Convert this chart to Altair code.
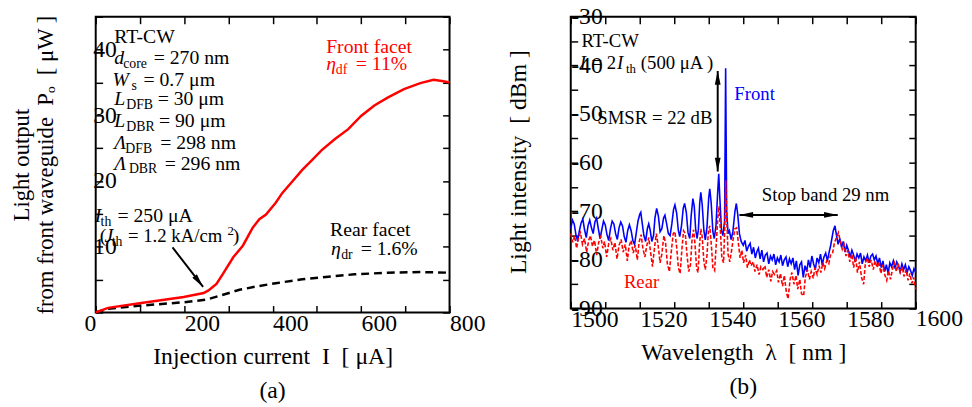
import altair as alt
import pandas as pd

FONT = "Liberation Serif"

# ---------------- (a) light output vs injection current ----------------
cur_front = [0, 28, 103, 199, 244, 255, 273, 288, 311, 333, 355, 370, 385, 407, 422, 444, 467,
             489, 511, 541, 571, 600, 630, 660, 697, 734, 764, 786, 800]
pow_front = [0, 0.7, 1.45, 2.35, 2.95, 3.35, 4.35, 5.9, 8.4, 10.2, 12.9, 14.2, 14.9, 16.7, 18.2,
             19.9, 21.7, 23.2, 24.7, 26.4, 27.9, 29.9, 31.5, 32.7, 34.0, 34.9, 35.4, 35.2, 35.0]
cur_rear = [0, 28, 103, 199, 251, 288, 325, 363, 407, 467, 526, 585, 660, 734, 800]
pow_rear = [0, 0.55, 1.05, 1.55, 1.95, 2.7, 3.45, 3.95, 4.45, 5.05, 5.45, 5.8, 6.05, 6.15, 6.05]

a_x_labels = [0, 200, 400, 600, 800]
a_x_ticks = [0, 100, 200, 300, 400, 500, 600, 700, 800]
a_y_labels = [10, 20, 30, 40]
a_y_ticks = [0, 5, 10, 15, 20, 25, 30, 35, 40, 45]

# annotation fragments of panel (a): text, x, y, font size, colour, italic
ann_a_text = ["RT-CW",
              "d", "core", "= 270 nm",
              "W", "s", "= 0.7 μm",
              "L", "DFB", "= 30 μm",
              "L", "DBR", "= 90 μm",
              "Λ", "DFB", "= 298 nm",
              "Λ", "DBR", "= 296 nm",
              "Front facet", "η", "df", "= 11%",
              "I", "th", "= 250 μA",
              "(", "J", "th", "= 1.2 kA/cm", "2", ")",
              "Rear facet", "η", "dr", "= 1.6%"]
ann_a_x = [42,
           42, 62, 131,
           38, 81, 108,
           42, 69, 140,
           42, 69, 143,
           42, 67, 146,
           42, 75, 156,
           521, 521, 543, 588,
           -2, 11, 49,
           9, 20, 36, 73, 298, 310,
           530, 532, 555, 599]
ann_a_y = [41.0,
           37.8, 37.2, 37.8,
           34.5, 33.9, 34.5,
           31.5, 30.9, 31.5,
           28.2, 27.6, 28.2,
           24.9, 24.3, 24.9,
           21.75, 21.15, 21.75,
           39.45, 36.9, 36.3, 36.9,
           13.7, 13.2, 13.7,
           10.65, 10.65, 10.05, 10.65, 11.85, 10.65,
           11.7, 8.7, 8.1, 8.7]
ann_a_size = [20,
              20, 14, 20,
              20, 14, 20,
              20, 14, 20,
              20, 14, 20,
              20, 14, 20,
              20, 14, 20,
              20, 20, 14, 20,
              20, 14, 20,
              20, 20, 14, 19, 13, 20,
              20, 20, 14, 20]
ann_a_color = ["black"] * 19 + ["#ff0000"] * 4 + ["black"] * 13
ann_a_italic = [0,
                1, 0, 0,
                1, 0, 0,
                1, 0, 0,
                1, 0, 0,
                1, 0, 0,
                1, 0, 0,
                0, 1, 0, 0,
                1, 0, 0,
                0, 1, 0, 0, 0, 0,
                0, 1, 0, 0]

arrow_a = {"x": [173.7], "y": [9.9], "x2": [242.8], "y2": [3.9]}
head_a = {"x": [233.2], "y": [4.72], "ang": [142]}

# ---------------- (b) lasing spectra ----------------
front_spectrum = [
    (1490.0, -73.5), (1490.5, -71.8), (1491.0, -72.6), (1491.5, -74.8), (1492.0, -76.2),
    (1492.5, -74.0), (1493.0, -72.4), (1493.5, -71.6), (1494.0, -73.8), (1494.5, -75.4),
    (1495.0, -73.0), (1495.5, -71.8), (1496.0, -73.4), (1496.5, -74.6), (1497.0, -72.2),
    (1497.5, -71.4), (1498.0, -73.6), (1498.5, -75.6), (1499.0, -73.8), (1499.5, -72.0),
    (1500.0, -72.8), (1500.5, -74.8), (1501.0, -76.0), (1501.5, -73.6), (1502.0, -72.0),
    (1502.5, -72.6), (1503.0, -74.6), (1503.5, -75.8), (1504.0, -73.4), (1504.5, -72.2),
    (1505.0, -73.0), (1505.5, -75.2), (1506.0, -76.4), (1506.5, -74.0), (1507.0, -72.8),
    (1507.5, -74.0), (1508.0, -76.0), (1508.5, -76.8), (1509.0, -74.4), (1509.5, -72.0),
    (1510.0, -70.6), (1510.3, -70.2), (1510.7, -72.4), (1511.2, -75.0), (1511.7, -76.2),
    (1512.2, -73.6), (1512.6, -72.6), (1513.0, -73.8), (1513.5, -76.2), (1514.0, -75.0),
    (1514.4, -71.4), (1514.9, -69.4),
    (1515.4, -71.0), (1515.9, -74.2), (1516.4, -73.6), (1516.9, -71.4), (1517.3, -70.8),
    (1517.8, -72.6), (1518.3, -74.6), (1518.8, -75.0), (1519.3, -72.6), (1519.8, -69.6),
    (1520.2, -68.7), (1520.7, -70.4), (1521.2, -74.0), (1521.6, -75.2), (1522.1, -73.0),
    (1522.6, -69.4), (1523.0, -68.4), (1523.5, -70.2), (1524.0, -74.4), (1524.5, -75.6),
    (1524.9, -71.0), (1525.4, -67.4), (1525.8, -69.0), (1526.2, -73.6), (1526.6, -75.6),
    (1527.0, -73.8), (1527.4, -68.2), (1527.7, -66.1), (1528.1, -68.6), (1528.6, -74.0),
    (1529.0, -75.9), (1529.5, -73.2), (1530.0, -67.2), (1530.3, -65.4), (1530.7, -68.2),
    (1531.2, -74.2), (1531.6, -75.6), (1532.1, -73.0), (1532.6, -66.0), (1532.9, -62.3),
    (1533.2, -67.0), (1533.7, -74.0), (1534.1, -75.0), (1534.6, -72.0), (1534.9, -40.6),
    (1535.2, -70.0), (1535.6, -74.6), (1536.0, -74.0), (1536.5, -75.8), (1537.0, -74.2),
    (1537.6, -70.0), (1538.0, -68.4), (1538.4, -70.6), (1538.9, -74.6), (1539.4, -76.2),
    (1540.0, -77.0), (1540.5, -76.0), (1541.0, -78.2), (1541.5, -77.2), (1542.0, -76.6),
    (1542.5, -78.8), (1543.0, -77.4), (1543.5, -79.6), (1544.0, -78.2), (1544.4, -77.6),
    (1544.9, -79.8), (1545.4, -78.0), (1545.9, -80.4), (1546.4, -79.0), (1546.9, -78.6),
    (1547.4, -80.8), (1547.9, -79.2), (1548.4, -80.0), (1548.9, -78.8), (1549.4, -81.0),
    (1549.9, -79.6), (1550.4, -80.4), (1550.9, -79.0), (1551.4, -81.2), (1551.9, -80.0),
    (1552.4, -79.4), (1552.9, -81.4), (1553.4, -79.8), (1553.9, -80.8), (1554.4, -79.6),
    (1554.9, -82.0), (1555.4, -80.2), (1555.9, -83.2), (1556.4, -81.0), (1556.9, -80.4),
    (1557.4, -83.6), (1557.9, -81.2), (1558.4, -82.4), (1558.9, -80.0), (1559.4, -81.6),
    (1559.9, -79.2), (1560.4, -80.8), (1560.9, -82.0), (1561.4, -79.6), (1561.9, -80.6),
    (1562.4, -78.8), (1562.9, -81.0), (1563.4, -79.4), (1563.9, -78.6), (1564.4, -80.2),
    (1564.9, -78.4), (1565.3, -77.2), (1565.7, -75.6), (1566.1, -74.0), (1566.6, -73.0),
    (1567.0, -74.8), (1567.5, -76.8), (1568.0, -75.6), (1568.5, -77.4), (1569.0, -76.2),
    (1569.5, -78.4), (1570.0, -77.0), (1570.5, -78.0), (1571.0, -79.4), (1571.5, -78.0),
    (1572.0, -79.0), (1572.5, -80.4), (1573.0, -78.8), (1573.5, -79.6), (1574.0, -78.6),
    (1574.5, -80.8), (1575.0, -79.4), (1575.5, -80.2), (1576.0, -79.0), (1576.5, -80.6),
    (1577.0, -79.2), (1577.5, -78.8), (1578.0, -80.0), (1578.5, -79.2), (1579.0, -80.8),
    (1579.5, -79.6), (1580.0, -81.6), (1580.5, -80.2), (1581.0, -82.4), (1581.5, -81.0),
    (1582.0, -82.8), (1582.5, -80.6), (1583.0, -81.4), (1583.5, -80.2), (1584.0, -81.8),
    (1584.5, -80.4), (1585.0, -81.2), (1585.5, -82.4), (1586.0, -80.8), (1586.5, -82.0),
    (1587.0, -81.0), (1587.5, -82.6), (1588.0, -81.4), (1588.5, -82.2), (1589.0, -83.2),
    (1589.5, -81.8), (1590.0, -82.6)]

rear_spectrum = [
    (1490.0, -74.6), (1490.6, -76.4), (1491.1, -75.0), (1491.7, -77.6), (1492.3, -75.2),
    (1492.8, -74.4), (1493.4, -76.8), (1494.0, -75.6), (1494.6, -78.4), (1495.2, -76.0),
    (1495.7, -75.0), (1496.3, -77.2), (1496.9, -76.0), (1497.5, -79.0), (1498.1, -76.4),
    (1498.7, -75.2), (1499.3, -77.6), (1499.8, -76.2), (1500.4, -79.4), (1501.0, -76.6),
    (1501.6, -75.6), (1502.2, -78.0), (1502.8, -76.4), (1503.4, -79.8), (1504.0, -77.0),
    (1504.6, -75.8), (1505.2, -78.4), (1505.8, -76.8), (1506.4, -80.2), (1506.9, -77.2),
    (1507.5, -76.0), (1508.1, -78.6), (1508.7, -77.0), (1509.3, -80.0), (1509.8, -76.4),
    (1510.4, -74.8), (1510.9, -77.6), (1511.5, -79.4), (1512.0, -77.2), (1512.6, -75.4),
    (1513.1, -78.2), (1513.7, -81.4), (1514.2, -78.0), (1514.8, -74.6), (1515.3, -76.8),
    (1515.9, -80.6), (1516.4, -78.8), (1517.0, -75.0), (1517.5, -76.6), (1518.0, -80.8),
    (1518.6, -82.4), (1519.1, -78.6), (1519.7, -74.6), (1520.2, -74.2), (1520.7, -77.4),
    (1521.2, -81.6), (1521.7, -82.8), (1522.2, -78.0), (1522.7, -74.0), (1523.2, -74.6),
    (1523.7, -79.0), (1524.2, -82.4), (1524.7, -81.0), (1525.2, -75.4), (1525.6, -73.8),
    (1526.0, -76.6), (1526.5, -81.8), (1526.9, -82.6), (1527.3, -77.2), (1527.7, -73.6),
    (1528.1, -75.2), (1528.6, -80.4), (1529.0, -82.0), (1529.5, -79.0), (1529.9, -74.0),
    (1530.3, -73.0), (1530.8, -77.4), (1531.2, -81.6), (1531.7, -82.2), (1532.2, -76.4),
    (1532.7, -70.6), (1533.0, -69.0), (1533.3, -73.0), (1533.8, -79.6), (1534.3, -80.6),
    (1534.7, -72.0), (1534.9, -63.6), (1535.2, -71.0), (1535.6, -78.8), (1536.1, -80.4),
    (1536.6, -78.2), (1537.1, -75.6), (1537.6, -73.6), (1538.1, -73.4), (1538.6, -76.6),
    (1539.1, -79.6), (1539.6, -78.0), (1540.1, -80.6), (1540.7, -79.0), (1541.2, -81.6),
    (1541.8, -80.0), (1542.3, -81.2), (1542.9, -80.4), (1543.4, -82.4), (1544.0, -81.0),
    (1544.6, -83.0), (1545.1, -81.4), (1545.7, -82.0), (1546.3, -81.2), (1546.8, -83.6),
    (1547.4, -82.0), (1548.0, -84.4), (1548.5, -82.4), (1549.1, -83.0), (1549.7, -82.2),
    (1550.2, -84.6), (1550.8, -82.8), (1551.4, -85.4), (1551.9, -83.2), (1552.5, -86.6),
    (1553.0, -88.0), (1553.6, -84.0), (1554.1, -82.6), (1554.7, -85.0), (1555.3, -83.2),
    (1555.8, -86.0), (1556.4, -84.0), (1556.9, -87.0), (1557.5, -87.4), (1558.0, -83.6),
    (1558.6, -82.0), (1559.2, -84.0), (1559.7, -82.4), (1560.3, -83.8), (1560.8, -81.6),
    (1561.4, -83.0), (1562.0, -81.2), (1562.5, -82.6), (1563.1, -80.6), (1563.6, -81.8),
    (1564.2, -80.2), (1564.8, -80.8), (1565.3, -79.0), (1565.9, -78.6), (1566.4, -76.6),
    (1567.0, -75.4), (1567.6, -74.4), (1568.1, -76.0), (1568.7, -77.8), (1569.2, -76.8),
    (1569.8, -79.2), (1570.3, -78.0), (1570.9, -80.4), (1571.5, -78.8), (1572.0, -81.6),
    (1572.6, -79.4), (1573.1, -82.6), (1573.7, -80.4), (1574.3, -83.6), (1574.9, -85.0),
    (1575.4, -80.6), (1576.0, -79.6), (1576.5, -81.4), (1577.1, -80.0), (1577.7, -82.0),
    (1578.2, -80.2), (1578.8, -81.6), (1579.3, -80.4), (1579.9, -82.8), (1580.5, -81.0),
    (1581.0, -83.0), (1581.6, -84.2), (1582.1, -82.2), (1582.7, -84.0), (1583.3, -81.8),
    (1583.8, -80.6), (1584.4, -82.4), (1584.9, -80.8), (1585.5, -82.6), (1586.1, -81.4),
    (1586.6, -83.4), (1587.2, -82.0), (1587.8, -84.2), (1588.3, -82.8), (1588.9, -84.8),
    (1589.4, -83.6), (1590.0, -86.0)]

b_x_labels = [1500, 1520, 1540, 1560, 1580]
b_x_ticks = [1490, 1500, 1510, 1520, 1530, 1540, 1550, 1560, 1570, 1580, 1590]
b_y_labels = [-90, -80, -70, -60, -50, -40, -30]
b_y_ticks = [-90, -85, -80, -75, -70, -65, -60, -55, -50, -45, -40, -35, -30]

ann_b_text = ["RT-CW", "I", "= 2", "I", "th", "(500 μA )", "SMSR = 22 dB",
              "Front", "Stop band 29 nm", "Rear"]
ann_b_x = [1493.1, 1492.6, 1496.0, 1503.4, 1506.0, 1510.3, 1497.7, 1537.4, 1545.4, 1505.4]
ann_b_y = [-36.3, -40.7, -40.7, -40.7, -41.5, -40.7, -52.1, -47.2, -67.9, -85.7]
ann_b_size = [19, 19, 19, 19, 13, 19, 19, 19, 19, 19]
ann_b_color = ["black"] * 7 + ["#0000ff", "black", "#ff0000"]
ann_b_italic = [0, 1, 0, 1, 0, 0, 0, 0, 0, 0]

arrow_b = {"x": [1532.6, 1538.9], "y": [-41.15, -70.75], "x2": [1532.6, 1567.4], "y2": [-61.82, -70.75]}
head_b = {"x": [1532.6, 1532.6, 1540.86, 1565.43], "y": [-42.57, -60.41, -70.75, -70.75],
          "ang": [0, 180, 270, 90]}

# ---------------- helpers ----------------
HEAD = "M0,-1L0.42,1L-0.42,1Z"


def label_axis_x(values, title, label_offset):
    return alt.Axis(orient="bottom", values=values, ticks=False, tickSize=0, domain=False, grid=False,
                    labelPadding=-1, labelOffset=label_offset, labelOverlap=False, labelFlush=False,
                    format="d",
                    labelFont=FONT, labelFontSize=24, labelColor="black",
                    title=title, titlePadding=10, titleFont=FONT, titleFontSize=24,
                    titleFontWeight="normal", titleColor="black")


def label_axis_y(values, title, title_x, title_y, label_padding, title_size, label_expr=None):
    kw = dict(orient="left", values=values, ticks=False, tickSize=0, domain=False, grid=False,
              labelAlign="left", labelBaseline="middle", labelPadding=label_padding,
              labelOverlap=False, labelFlush=False,
              labelFont=FONT, labelFontSize=24, labelColor="black",
              title=title, titleAngle=270, titleBaseline="middle", titleAlign="center",
              titleX=title_x, titleY=title_y, titleLineHeight=24,
              titleFont=FONT, titleFontSize=title_size, titleFontWeight="normal", titleColor="black")
    if label_expr:
        kw["labelExpr"] = label_expr
    return alt.Axis(**kw)


def tick_axis(orient, values, offset):
    return alt.Axis(orient=orient, values=values, offset=offset, labels=False, domain=False,
                    grid=False, ticks=True, tickSize=7, tickWidth=1.5, tickColor="black", title=None)


def text_layers(df, xs, ys):
    base = alt.Chart(df).encode(
        x=alt.X("x:Q", scale=xs, axis=None),
        y=alt.Y("y:Q", scale=ys, axis=None),
        text="t:N",
        size=alt.Size("fs:Q", scale=None),
        color=alt.Color("c:N", scale=None),
    )
    normal = base.mark_text(align="left", baseline="alphabetic", font=FONT).transform_filter("datum.it == 0")
    italic = base.mark_text(align="left", baseline="alphabetic", font=FONT,
                            fontStyle="italic").transform_filter("datum.it == 1")
    return [normal, italic]


# ---------------- panel (a) ----------------
WA, HA = 359, 300
xa = alt.Scale(domain=[0, 800], nice=False, zero=False)
ya = alt.Scale(domain=[0, 45], nice=False, zero=False)

df_front = pd.DataFrame({"I": cur_front, "P": pow_front})
df_rear = pd.DataFrame({"I": cur_rear, "P": pow_rear})
df_ann_a = pd.DataFrame({"t": ann_a_text, "x": ann_a_x, "y": ann_a_y, "fs": ann_a_size,
                         "c": ann_a_color, "it": ann_a_italic})

rear_line = alt.Chart(df_rear).mark_line(color="black", strokeWidth=2.5, strokeDash=[8, 5]).encode(
    x=alt.X("I:Q", scale=xa,
            axis=label_axis_x(a_x_labels, "Injection current\u00a0\u00a0I\u00a0\u00a0[ μA]",
                              {"condition": {"test": "datum.value === 0", "value": -6}, "value": 18})),
    y=alt.Y("P:Q", scale=ya,
            axis=label_axis_y(a_y_labels,
                              ["Light output",
                               "from front waveguide\u00a0\u00a0P\u2092\u00a0\u00a0[ μW ]"],
                              -75, 150, 3, 23)),
)
front_line = alt.Chart(df_front).mark_line(color="#ff0000", strokeWidth=2.5).encode(
    x=alt.X("I:Q", scale=xa, axis=tick_axis("top", a_x_ticks, -HA)),
    y=alt.Y("P:Q", scale=ya, axis=tick_axis("right", a_y_ticks, -WA)),
)
arrow_line_a = alt.Chart(pd.DataFrame(arrow_a)).mark_rule(color="black", strokeWidth=2).encode(
    x=alt.X("x:Q", scale=xa, axis=tick_axis("bottom", a_x_ticks, -HA)),
    y=alt.Y("y:Q", scale=ya, axis=tick_axis("left", a_y_ticks, -WA)),
    x2="x2:Q", y2="y2:Q",
)
arrow_head_a = alt.Chart(pd.DataFrame(head_a)).mark_point(
    shape=HEAD, filled=True, size=196, color="black", opacity=1).encode(
    x=alt.X("x:Q", scale=xa, axis=None),
    y=alt.Y("y:Q", scale=ya, axis=None),
    angle=alt.Angle("ang:Q", scale=None),
)

panel_a = alt.layer(rear_line, front_line, arrow_line_a, arrow_head_a,
                    *text_layers(df_ann_a, xa, ya)).resolve_axis(
    x="independent", y="independent").properties(
    width=WA, height=HA,
    title=alt.TitleParams("(a)", orient="bottom", font=FONT, fontSize=24, fontWeight="normal",
                          color="black", offset=11))

# ---------------- panel (b) ----------------
WB, HB = 350, 296
xb = alt.Scale(domain=[1490, 1590], nice=False, zero=False)
yb = alt.Scale(domain=[-90, -30], nice=False, zero=False)

df_fs = pd.DataFrame(front_spectrum, columns=["wl", "db"])
df_rs = pd.DataFrame(rear_spectrum, columns=["wl", "db"])
df_ann_b = pd.DataFrame({"t": ann_b_text, "x": ann_b_x, "y": ann_b_y, "fs": ann_b_size,
                         "c": ann_b_color, "it": ann_b_italic})

front_spec = alt.Chart(df_fs).mark_line(color="#0000ff", strokeWidth=1.6).encode(
    x=alt.X("wl:Q", scale=xb, axis=label_axis_x(b_x_labels, "Wavelength\u00a0\u00a0λ\u00a0\u00a0[ nm ]", -11)),
    y=alt.Y("db:Q", scale=yb,
            axis=label_axis_y(b_y_labels, "Light intensity\u00a0\u00a0[ dBm ]", -53, 147, 0, 24,
                              "'-' + abs(datum.value)")),
)
rear_spec = alt.Chart(df_rs).mark_line(color="#ff0000", strokeWidth=1.6, strokeDash=[4, 2]).encode(
    x=alt.X("wl:Q", scale=xb, axis=tick_axis("top", b_x_ticks, -HB)),
    y=alt.Y("db:Q", scale=yb, axis=tick_axis("right", b_y_ticks, -WB)),
)
arrow_lines_b = alt.Chart(pd.DataFrame(arrow_b)).mark_rule(color="black", strokeWidth=2).encode(
    x=alt.X("x:Q", scale=xb, axis=tick_axis("bottom", b_x_ticks, -HB)),
    y=alt.Y("y:Q", scale=yb, axis=tick_axis("left", b_y_ticks, -WB)),
    x2="x2:Q", y2="y2:Q",
)
arrow_heads_b = alt.Chart(pd.DataFrame(head_b)).mark_point(
    shape=HEAD, filled=True, size=196, color="black", opacity=1).encode(
    x=alt.X("x:Q", scale=xb, axis=None),
    y=alt.Y("y:Q", scale=yb, axis=None),
    angle=alt.Angle("ang:Q", scale=None),
)
last_label = alt.Chart(pd.DataFrame({"t": ["1600"]})).mark_text(
    font=FONT, fontSize=24, baseline="top", align="center", dx=-11, dy=-1, color="black").encode(
    x=alt.X(datum=1600, scale=xb, axis=None),
    y=alt.Y(datum=-90, scale=yb, axis=None),
    text="t:N",
)

panel_b = alt.layer(front_spec, rear_spec, arrow_lines_b, arrow_heads_b,
                    *text_layers(df_ann_b, xb, yb), last_label).resolve_axis(
    x="independent", y="independent").properties(
    width=WB, height=HB,
    title=alt.TitleParams("(b)", orient="bottom", font=FONT, fontSize=24, fontWeight="normal",
                          color="black", offset=11))

chart = alt.hconcat(panel_a, panel_b, spacing=123, bounds="flush").properties(
    padding={"left": 2, "top": -7, "right": 0, "bottom": 0}
).configure(background="white").configure_view(stroke="black", strokeWidth=2)

chart.save("out.html", embed_options={"renderer": "svg", "actions": False})
